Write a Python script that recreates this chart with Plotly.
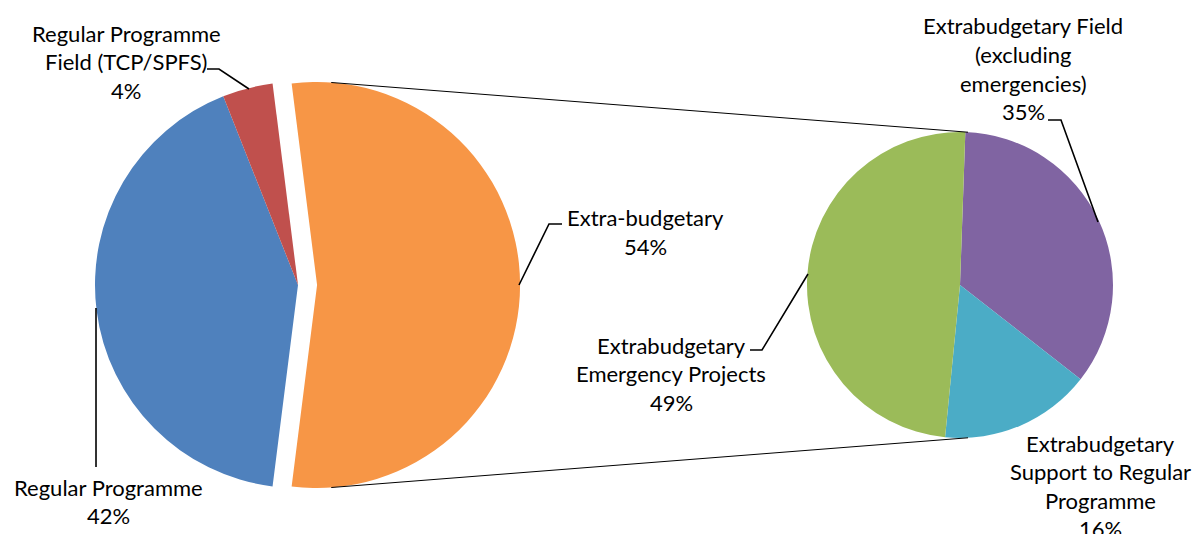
import math
import plotly.graph_objects as go

# ---------------- data ----------------
main_labels = ["Extra-budgetary", "Regular Programme", "Regular Programme Field (TCP/SPFS)"]
main_values = [54, 42, 4]
main_colors = ["#F79646", "#4F81BD", "#C0504D"]

sub_labels = ["Extrabudgetary Field (excluding emergencies)",
              "Extrabudgetary Support to Regular Programme",
              "Extrabudgetary Emergency Projects"]
sub_values = [35, 16, 49]
sub_colors = ["#8064A2", "#4BACC6", "#9BBB59"]

# label text split into display lines (percentage appended as last line)
main_label_lines = [["Extra-budgetary"], ["Regular Programme"], ["Regular Programme", "Field (TCP/SPFS)"]]
sub_label_lines = [["Extrabudgetary Field", "(excluding", "emergencies)"],
                   ["Extrabudgetary", "Support to Regular", "Programme"],
                   ["Extrabudgetary", "Emergency Projects"]]

# ---------------- layout geometry (screen pixels) ----------------
OFF = 8  # page body margin in the rendered page
W, H = 1200 - OFF, 534 - OFF  # figure fits in the window
L_CX, L_CY, L_R = 298, 285, 203
PULL = 0.094
R_CX, R_CY, R_R = 960, 285, 153
FONT = dict(family="Lato, Calibri, sans-serif", size=22, color="#000000")
LINE_GAP = 28.5


def px(x, y):
    return (x - OFF) / W, 1 - (y - OFF) / H


def domain(cx, cy, r, pull=0.0):
    h = r * (1 + pull)
    x0, y0 = px(cx - h, cy + h)
    x1, y1 = px(cx + h, cy - h)
    return dict(x=[x0, x1], y=[y0, y1])


main_total = sum(main_values)
main_rotation = 90 - 360 * main_values[0] / main_total / 2

fig = go.Figure()
fig.add_trace(go.Pie(
    labels=main_labels, values=main_values, sort=False, direction="clockwise",
    rotation=main_rotation, pull=[PULL, 0, 0], textinfo="none", hoverinfo="label+percent",
    marker=dict(colors=main_colors, line=dict(width=0)),
    domain=domain(L_CX, L_CY, L_R, PULL), showlegend=False,
))
fig.add_trace(go.Pie(
    labels=sub_labels, values=sub_values, sort=False, direction="clockwise",
    rotation=2, textinfo="none", hoverinfo="label+percent",
    marker=dict(colors=sub_colors, line=dict(width=0)),
    domain=domain(R_CX, R_CY, R_R), showlegend=False,
))

shapes = []
# connector lines between the split slice and the secondary pie
ocx = L_CX + PULL * L_R
for sgn in (1, -1):
    a1 = math.radians(86)
    a2 = math.radians(87)
    x0, y0 = ocx + L_R * math.cos(a1), L_CY - sgn * L_R * math.sin(a1)
    x1, y1 = R_CX + R_R * math.cos(a2), R_CY - sgn * R_R * math.sin(a2)
    p0, p1 = px(x0, y0), px(x1, y1)
    shapes.append(dict(type="line", xref="paper", yref="paper",
                       x0=p0[0], y0=p0[1], x1=p1[0], y1=p1[1],
                       line=dict(color="#000000", width=1)))


def leader(points):
    pts = [px(x, y) for x, y in points]
    path = "M " + " L ".join(f"{a:.5f},{b:.5f}" for a, b in pts)
    return dict(type="path", xref="paper", yref="paper", path=path,
                line=dict(color="#000000", width=1.6))


shapes += [
    leader([(207, 69), (219, 69), (249, 89)]),      # RP field
    leader([(96, 308), (96, 467)]),                 # Regular Programme
    leader([(562, 224), (549, 224), (519, 285)]),   # Extra-budgetary
    leader([(750, 350), (762, 350), (808, 274)]),   # Emergency
    leader([(1048, 120), (1061, 120), (1098, 222)]),  # Field excl emergencies
]

annotations = []


def add_label(lines, cx, y_first):
    for i, t in enumerate(lines):
        x, y = px(cx, y_first + i * LINE_GAP)
        annotations.append(dict(text=t, x=x, y=y, xref="paper", yref="paper",
                                xanchor="center", yanchor="middle", showarrow=False,
                                font=FONT))


pct = lambda v: f"{v}%"
add_label(main_label_lines[2] + [pct(main_values[2])], 126, 33)
add_label(main_label_lines[1] + [pct(main_values[1])], 108, 487)
add_label(main_label_lines[0] + [pct(main_values[0])], 645, 218)
add_label(sub_label_lines[0] + [pct(sub_values[0])], 1023, 26)
add_label(sub_label_lines[1] + [pct(sub_values[1])], 1100, 443)
add_label(sub_label_lines[2] + [pct(sub_values[2])], 671, 345)

fig.update_layout(
    width=W, height=H, margin=dict(l=0, r=0, t=0, b=0),
    paper_bgcolor="#FFFFFF", plot_bgcolor="#FFFFFF",
    shapes=shapes, annotations=annotations, showlegend=False,
)

fig.write_html("out.html")
